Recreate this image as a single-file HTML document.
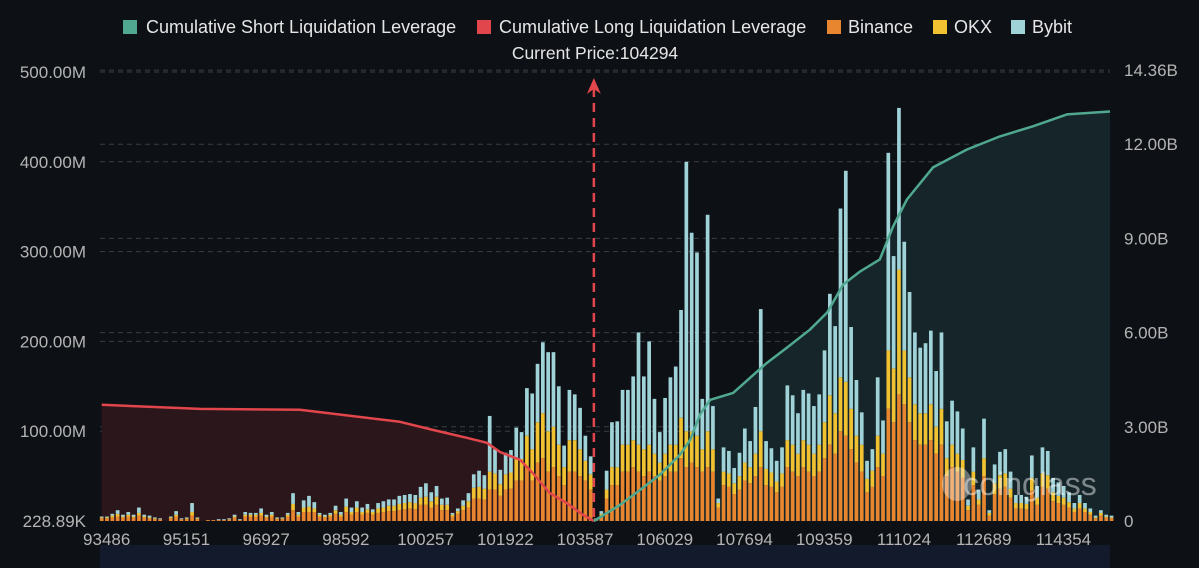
<!DOCTYPE html>
<html><head><meta charset="utf-8">
<style>
html,body{margin:0;padding:0;background:#0d1015;}
svg{display:block;font-family:"Liberation Sans",sans-serif;}
</style></head>
<body>
<svg id="chart" width="1199" height="568" viewBox="0 0 1199 568" xmlns="http://www.w3.org/2000/svg">
<rect x="0" y="0" width="1199" height="568" fill="#0d1015"/>
<rect x="100" y="545" width="1010" height="23" fill="#121a2c"/>
<g id="grid"></g>
<g id="areas"></g>
<g id="bars"></g>
<g id="lines"></g>
<g id="axes"></g>
<g>
<ellipse cx="957" cy="484" rx="15" ry="17" fill="#ffffff" fill-opacity="0.35"/>
<text x="1030" y="495" font-size="32" fill="#ffffff" fill-opacity="0.45" text-anchor="middle">coinglass</text>
</g>
<g font-size="18" fill="#e6e6e6">
  <g><rect x="123" y="20" width="14" height="14" fill="#4fa88f"/><text x="146" y="33">Cumulative Short Liquidation Leverage</text></g>
  <g><rect x="477" y="20" width="14" height="14" fill="#e0464b"/><text x="499" y="33">Cumulative Long Liquidation Leverage</text></g>
  <g><rect x="827" y="20" width="14" height="14" fill="#e8862f"/><text x="848" y="33">Binance</text></g>
  <g><rect x="933" y="20" width="14" height="14" fill="#f0c232"/><text x="954" y="33">OKX</text></g>
  <g><rect x="1011" y="20" width="14" height="14" fill="#9fd3d8"/><text x="1032" y="33">Bybit</text></g>
</g>
<text x="595" y="59" font-size="17.5" fill="#e6e6e6" text-anchor="middle">Current Price:104294</text>
</svg>
<script>
const xLabels=["93486","95151","96927","98592","100257","101922","103587","106029","107694","109359","111024","112689","114354"];
const leftTicks=[0,100,200,300,400,500];
const leftTickLabels=["228.89K","100.00M","200.00M","300.00M","400.00M","500.00M"];
const rightTicks=[0,3,6,9,12,14.36];
const rightTickLabels=["0","3.00B","6.00B","9.00B","12.00B","14.36B"];
const currentIndex=92.6;
const totals=[5,5,8,12,7,10,7,15,7,6,4,3,0,5,11,3,4,20,4,0,1,1,2,2,3,7,2,10,9,9,14,7,10,4,4,9,31,10,23,28,21,9,7,9,17,10,25,15,22,15,19,13,20,22,24,24,28,29,30,29,38,42,32,39,25,26,9,14,23,31,52,56,51,117,80,57,76,79,104,99,148,142,175,199,188,188,150,84,146,141,126,95,72,
3,11,56,110,111,146,146,161,210,161,200,136,99,137,160,172,235,400,321,299,136,341,128,25,82,78,59,76,103,89,127,236,89,81,67,82,151,140,120,146,142,128,141,190,253,217,348,390,216,157,121,67,80,160,112,410,295,460,311,255,210,193,198,212,167,210,111,134,122,103,24,82,35,114,12,63,77,80,55,29,29,27,73,39,82,78,48,43,39,32,20,29,20,14,6,12,7,6];
const binance=[3,3,4,5,4,5,4,6,4,3,2,2,0,3,5,2,2,6,2,0,1,1,1,1,2,4,1,5,5,5,6,4,5,2,2,5,12,5,10,10,10,5,4,5,8,5,10,7,10,7,9,7,9,10,11,11,12,13,14,13,18,18,15,18,12,12,5,8,12,15,25,25,24,35,35,28,35,36,45,45,60,45,65,70,55,60,50,40,55,55,50,45,35,
2,6,25,40,40,55,55,60,55,50,55,50,45,50,55,55,70,60,65,60,55,60,55,15,40,38,30,35,45,42,50,60,40,38,32,38,60,55,50,60,55,50,55,70,85,75,100,95,80,65,55,32,38,60,50,125,110,141,130,110,90,85,85,90,75,85,50,60,55,48,12,40,18,50,6,30,36,38,26,14,14,13,34,18,38,36,22,20,18,15,10,14,10,7,3,6,4,3];
const okx=[1,1,2,3,1,2,1,3,1,1,1,0,0,1,2,0,1,4,1,0,0,0,0,0,0,1,0,2,2,2,3,1,2,1,1,2,7,2,5,6,4,2,1,2,4,2,6,3,5,3,4,3,5,5,6,6,7,7,7,7,8,9,7,9,6,6,2,3,5,7,12,13,12,20,18,13,17,18,25,24,35,35,45,50,45,45,35,20,35,35,30,22,17,
1,2,10,20,20,30,30,30,30,30,30,25,20,25,30,30,45,40,35,35,25,40,25,5,15,15,12,15,20,18,25,40,18,16,12,15,30,30,25,30,30,25,30,40,55,45,60,60,45,30,30,15,18,35,25,65,60,139,60,50,40,35,35,40,30,40,20,25,20,20,5,15,6,20,3,12,15,15,10,6,6,6,14,8,15,15,10,8,8,6,4,6,4,3,1,3,1,1];
const longIdx=[0,18.5,37.3,56.1,62.3,68.7,72.5,74.9,78.7,81.1,84.3,87.5,90.6,92.6];
const longVal=[3.70,3.57,3.54,3.16,2.90,2.65,2.49,2.20,1.95,1.53,0.89,0.57,0.19,0];
const shortIdx=[92.6,97.5,101.3,105,108.8,110.7,112.6,114.5,118.8,125.2,128.9,133.2,136.5,139.5,142.7,146.4,148.9,151.5,156.4,162.8,169,175.2,181.6,189.7];
const shortVal=[0,0.51,0.99,1.47,2.11,2.58,3.40,3.86,4.08,5.04,5.52,6.09,6.64,7.53,7.95,8.33,9.38,10.24,11.26,11.83,12.25,12.57,12.95,13.04];

const NS="http://www.w3.org/2000/svg";
const base=521, x0=101.7, step=5.315;
const xs=i=>x0+i*step;
const yL=v=>base-v*0.898;
const yR=v=>base-v*31.4;
function mk(tag,attrs,parent){const e=document.createElementNS(NS,tag);for(const k in attrs)e.setAttribute(k,attrs[k]);parent.appendChild(e);return e;}
const grid=document.getElementById('grid'),bars=document.getElementById('bars'),lines=document.getElementById('lines'),areas=document.getElementById('areas'),axes=document.getElementById('axes');

leftTicks.forEach((t,k)=>{
  if(k>0){const l=mk('line',{x1:100,x2:1110,y1:yL(t),y2:yL(t),stroke:'#3a3f47','stroke-width':1,'stroke-dasharray':'5,4'},grid);
  
  }
  const tx=mk('text',{x:86,y:yL(t)+6,'font-size':17,fill:'#b4b4b4','text-anchor':'end'},axes);
  tx.textContent=leftTickLabels[k];
  
  
});
rightTicks.forEach((t,k)=>{
  if(k>0){const l=mk('line',{x1:100,x2:1110,y1:yR(t),y2:yR(t),stroke:'#3a3f47','stroke-width':1,'stroke-dasharray':'5,4'},grid);
  
  }
  const tx=mk('text',{x:1124,y:yR(t)+6,'font-size':17,fill:'#b4b4b4','text-anchor':'start'},axes);
  tx.textContent=rightTickLabels[k];
  
  
});
xLabels.forEach((s,k)=>{
  const tx=mk('text',{x:xs(k*15)+5,y:545,'font-size':17,fill:'#b4b4b4','text-anchor':'middle'},axes);
  tx.textContent=s;
  
  
});

function pts(idx,val){return idx.map((i,k)=>xs(i).toFixed(1)+','+yR(val[k]).toFixed(1));}
const lp=pts(longIdx,longVal), sp=pts(shortIdx,shortVal);
const la=mk('polygon',{points:xs(longIdx[0])+','+base+' '+lp.join(' ')+' '+xs(longIdx[longIdx.length-1])+','+base,fill:'#2a161b'},areas);


const sa=mk('polygon',{points:xs(shortIdx[0])+','+base+' '+sp.join(' ')+' '+xs(shortIdx[shortIdx.length-1])+','+base,fill:'#15252a'},areas);



totals.forEach((t,i)=>{
  const x=xs(i)-1.85,w=3.7;
  const b=binance[i],o=okx[i],y=Math.max(0,t-b-o);
  const r1=mk('rect',{x:x,y:yL(b),width:w,height:b*0.898,fill:'#e8862f'},bars);
  
  
  const r2=mk('rect',{x:x,y:yL(b+o),width:w,height:o*0.898,fill:'#f0c232'},bars);
  
  
  const r3=mk('rect',{x:x,y:yL(b+o+y),width:w,height:y*0.898,fill:'#9fd3d8'},bars);
  
  
});

const ll=mk('polyline',{points:lp.join(' '),fill:'none',stroke:'#e0464b','stroke-width':2.5,'stroke-linejoin':'round'},lines);


const sl=mk('polyline',{points:sp.join(' '),fill:'none',stroke:'#4fa88f','stroke-width':2.5,'stroke-linejoin':'round'},lines);



const cx=xs(currentIndex);
const cl=mk('line',{x1:cx,x2:cx,y1:88,y2:base,stroke:'#e0464b','stroke-width':2.5,'stroke-dasharray':'9,6'},lines);


const ar=mk('polygon',{points:(cx)+',78 '+(cx-7)+',94 '+cx+',89 '+(cx+7)+',94',fill:'#e0464b'},lines);


</script>
</body></html>
